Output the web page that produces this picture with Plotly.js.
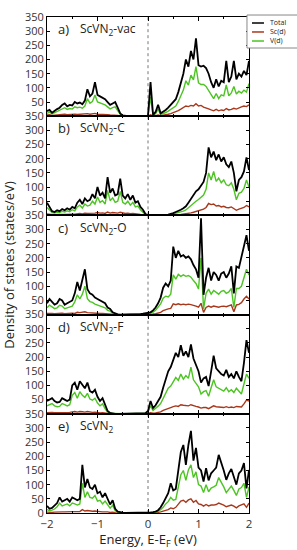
<!DOCTYPE html>
<html>
<head>
<meta charset="utf-8">
<script src="https://cdn.plot.ly/plotly-3.0.1.min.js"></script>
<style>
  html, body { margin: 0; padding: 0; background: #fff; }
  #chart { width: 297px; height: 550px; }
</style>
</head>
<body>
<div id="chart"></div>
<script>
// Energy grid, E - E_F (eV)
const energy = [
  -2,-1.95,-1.9,-1.85,-1.8,-1.75,-1.7,-1.65,-1.6,-1.55,
  -1.5,-1.45,-1.4,-1.35,-1.3,-1.25,-1.2,-1.15,-1.1,-1.05,
  -1,-0.95,-0.9,-0.85,-0.8,-0.75,-0.7,-0.65,-0.6,-0.55,
  -0.5,-0.45,-0.4,-0.35,-0.3,-0.25,-0.2,-0.15,-0.1,-0.05,
  0,0.05,0.1,0.15,0.2,0.25,0.3,0.35,0.4,0.45,
  0.5,0.55,0.6,0.65,0.7,0.75,0.8,0.85,0.9,0.95,
  1,1.05,1.1,1.15,1.2,1.25,1.3,1.35,1.4,1.45,
  1.5,1.55,1.6,1.65,1.7,1.75,1.8,1.85,1.9,1.95,
  2
];

const panelLetters = ['a)', 'b)', 'c)', 'd)', 'e)'];
const panelNames = ['ScVN<sub>2</sub>-vac', 'ScVN<sub>2</sub>-C', 'ScVN<sub>2</sub>-O', 'ScVN<sub>2</sub>-F', 'ScVN<sub>2</sub>'];
const seriesNames = ['Total', 'Sc(d)', 'V(d)'];
const yTicksInner = [50, 100, 150, 200, 250, 300, 350];
const yTicksBottom = [0, 50, 100, 150, 200, 250, 300, 350];
const xTicks = [-2, -1, 0, 1, 2];
const fermiLevel = 0;

// a) ScVN2-vac
const total_a = [
  18,22,12,20,25,30,40,45,35,40,
  38,50,45,48,42,55,95,70,80,120,
  75,70,65,60,50,40,45,50,30,10,
  3,1,0,0,0,0,0,0,0,0,
  2,120,5,15,40,10,15,22,30,40,
  50,60,85,115,150,200,175,230,200,275,
  180,175,178,170,150,120,100,130,105,125,
  120,195,120,140,195,130,150,140,160,145,
  195];
const vd_a = [
  10,14,8,12,16,20,26,30,24,27,
  25,33,30,32,28,36,62,46,52,75,
  50,46,43,40,33,26,30,33,20,7,
  2,1,0,0,0,0,0,0,0,0,
  1,68,3,9,25,6,9,13,18,24,
  30,36,52,70,92,125,110,145,128,175,
  118,112,112,105,92,75,62,80,62,75,
  72,110,72,82,105,78,88,82,92,85,
  115];
const scd_a = [
  4,5,3,4,5,5,6,7,5,6,
  6,7,6,7,6,7,9,7,8,10,
  7,7,6,6,5,4,4,4,3,1,
  0,0,0,0,0,0,0,0,0,0,
  0,5,1,2,4,2,3,5,7,9,
  12,15,20,25,30,36,34,38,36,44,
  36,38,32,30,26,22,19,24,19,22,
  20,27,22,24,28,25,30,33,36,34,
  40];

// b) ScVN2-C
const total_b = [
  45,30,15,12,18,15,22,18,25,20,
  30,25,45,55,40,60,50,55,75,60,
  100,70,80,60,135,80,95,70,75,130,
  70,60,75,55,70,45,50,30,20,5,
  0,0,0,0,0,0,1,2,3,5,
  8,12,15,20,25,32,45,60,70,85,
  92,105,118,150,240,205,225,195,215,190,
  205,180,170,190,150,85,125,135,155,205,
  160];
const vd_b = [
  28,20,10,8,12,10,14,12,16,13,
  20,16,30,36,26,40,33,36,50,40,
  65,46,52,40,88,52,62,46,50,85,
  46,40,50,36,46,30,33,20,13,3,
  0,0,0,0,0,0,1,1,2,3,
  5,7,9,12,15,19,27,36,42,50,
  56,63,72,92,150,125,155,120,132,115,
  125,108,105,115,92,55,78,82,95,125,
  100];
const scd_b = [
  5,4,2,2,3,2,3,3,4,3,
  4,4,6,7,5,8,7,7,9,8,
  10,8,9,7,12,8,10,8,8,11,
  8,7,8,6,7,5,5,3,2,1,
  0,0,0,0,0,0,0,0,0,1,
  1,2,2,3,4,5,7,9,11,14,
  16,19,22,28,42,38,40,33,35,30,
  32,28,27,30,25,18,22,24,28,35,
  30];

// c) ScVN2-O
const total_c = [
  40,55,45,35,40,55,50,35,40,45,
  50,75,115,85,120,160,90,75,70,60,
  55,50,45,40,25,20,8,3,1,0,
  0,0,0,0,0,0,1,2,3,4,
  5,8,15,25,40,60,95,110,100,120,
  240,200,225,205,210,200,205,195,175,160,
  130,340,70,130,165,120,150,140,120,145,
  150,130,145,170,75,170,165,200,245,280,
  225];
const vd_c = [
  24,33,27,21,24,33,30,21,24,27,
  30,45,70,55,72,100,56,46,43,37,
  34,30,27,24,15,12,5,2,1,0,
  0,0,0,0,0,0,0,1,2,2,
  3,5,9,15,25,38,58,65,62,72,
  140,125,142,135,140,135,138,132,120,110,
  90,200,20,75,90,72,85,80,72,82,
  85,75,80,92,25,92,92,100,130,160,
  140];
const scd_c = [
  4,5,4,3,4,5,5,3,4,4,
  5,4,8,7,8,10,7,6,6,5,
  5,4,4,3,2,2,1,0,0,0,
  0,0,0,0,0,0,0,0,0,0,
  0,1,2,3,5,8,14,18,20,22,
  38,35,38,35,37,35,37,35,33,30,
  26,40,8,25,30,26,30,28,26,29,
  30,28,30,34,10,34,36,42,55,65,
  55];

// d) ScVN2-F
const total_d = [
  45,50,55,45,40,42,55,50,45,50,
  100,110,85,115,100,90,110,80,75,85,
  60,45,55,30,10,3,1,0,0,0,
  0,0,0,0,0,0,0,0,0,2,
  10,45,20,30,45,60,92,121,150,165,
  190,215,200,242,205,220,200,245,195,170,
  150,110,125,130,98,150,205,160,150,140,
  135,155,130,140,125,150,130,115,180,260,
  215];
const vd_d = [
  28,32,36,28,25,26,36,32,28,32,
  65,75,55,78,65,58,72,52,48,55,
  38,28,35,18,6,2,1,0,0,0,
  0,0,0,0,0,0,0,0,0,1,
  6,28,12,18,27,36,55,72,90,98,
  112,128,118,140,122,135,125,165,120,105,
  95,70,78,82,62,92,120,95,90,85,
  80,92,78,85,75,90,78,70,105,140,
  125];
const scd_d = [
  4,5,5,4,4,4,5,5,4,5,
  7,8,6,8,7,6,8,6,5,6,
  4,3,4,2,1,0,0,0,0,0,
  0,0,0,0,0,0,0,0,0,0,
  1,4,2,3,5,7,12,16,20,22,
  25,28,26,32,30,30,28,32,28,26,
  24,20,22,22,18,22,28,25,24,22,
  22,25,22,24,22,26,25,24,35,48,
  45];

// e) ScVN2
const total_e = [
  25,15,18,25,35,55,40,45,50,40,
  55,50,45,50,170,90,120,90,85,100,
  70,75,55,70,50,30,45,15,5,2,
  1,0,0,0,0,0,0,1,1,1,
  2,2,3,5,10,20,35,55,70,105,
  80,85,150,215,240,170,240,290,185,230,
  160,150,111,158,115,140,150,160,205,180,
  150,117,140,155,130,100,140,150,176,87,
  152];
const vd_e = [
  12,8,10,14,22,35,25,28,32,25,
  35,32,28,32,105,55,75,55,52,62,
  42,45,32,42,30,17,27,8,3,1,
  0,0,0,0,0,0,0,0,0,0,
  1,1,2,3,6,12,20,32,40,55,
  45,48,95,135,150,115,152,170,125,145,
  100,95,72,100,75,88,92,98,125,110,
  92,72,85,95,80,62,85,90,105,55,
  92];
const scd_e = [
  3,2,2,3,4,5,4,4,5,4,
  5,5,4,5,12,7,9,7,6,7,
  5,5,4,5,4,2,3,1,0,0,
  0,0,0,0,0,0,0,0,0,0,
  0,0,0,1,2,4,7,10,12,18,
  15,20,30,42,45,38,46,50,38,44,
  32,30,24,30,25,28,28,30,35,32,
  28,22,25,28,24,18,25,28,32,20,
  35];

const totals = [total_a, total_b, total_c, total_d, total_e];
const vds = [vd_a, vd_b, vd_c, vd_d, vd_e];
const scds = [scd_a, scd_b, scd_c, scd_d, scd_e];

const COL_TOTAL = '#000000';
const COL_SC = '#a8381c';
const COL_V = '#4cc422';
const FONT = 'Open Sans, Liberation Sans, sans-serif';
const nP = 5;

const traces = [];
const layout = {
  width: 297, height: 550,
  margin: {l: 47, r: 48, t: 17, b: 37, autoexpand: false},
  paper_bgcolor: '#fff', plot_bgcolor: '#fff',
  showlegend: false,
  font: {family: FONT, size: 11, color: '#333'},
  shapes: [], annotations: []
};

for (let k = 0; k < nP; k++) {
  const id = k === 0 ? '' : String(k + 1);
  const xa = 'x' + id, ya = 'y' + id;
  const series = [
    {y: scds[k], name: seriesNames[1], color: COL_SC, w: 1.4},
    {y: vds[k], name: seriesNames[2], color: COL_V, w: 1.4},
    {y: totals[k], name: seriesNames[0], color: COL_TOTAL, w: 1.8}
  ];
  series.forEach(s => traces.push({
    type: 'scatter', mode: 'lines', x: energy, y: s.y, name: s.name,
    xaxis: xa, yaxis: ya, line: {color: s.color, width: s.w},
    legendgroup: s.name, showlegend: false, hoverinfo: 'x+y+name'
  }));
  const top = 1 - k / nP, bot = 1 - (k + 1) / nP;
  layout['xaxis' + id] = {
    domain: [0, 1], range: [-2, 2], anchor: ya,
    showline: true, mirror: 'ticks', linecolor: '#000', linewidth: 1,
    ticks: 'inside', ticklen: 4, tickcolor: '#000',
    tickvals: xTicks, showticklabels: k === nP - 1,
    minor: {ticks: 'inside', dtick: 0.5, tick0: -2, ticklen: 2, tickcolor: '#000'},
    showgrid: false, zeroline: false, fixedrange: true,
    tickfont: {family: FONT, size: 11.5, color: '#333'},
    matches: k === 0 ? undefined : 'x'
  };
  layout['yaxis' + id] = {
    domain: [bot, top], range: [0, 350], anchor: xa,
    showline: true, mirror: 'ticks', linecolor: '#000', linewidth: 1,
    ticks: 'inside', ticklen: 3, tickcolor: '#000',
    tickvals: k === nP - 1 ? yTicksBottom : yTicksInner,
    showgrid: false, zeroline: false, fixedrange: true,
    tickfont: {family: FONT, size: 11, color: '#333'}
  };
  layout.shapes.push({
    type: 'line', xref: xa, yref: ya + ' domain',
    x0: fermiLevel, x1: fermiLevel, y0: 0, y1: 1,
    line: {color: '#777', width: 1, dash: 'dot'}, layer: 'below'
  });
  layout.annotations.push({
    xref: xa + ' domain', yref: ya + ' domain', x: 0.044, y: 0.878,
    xanchor: 'left', yanchor: 'middle', showarrow: false,
    text: panelLetters[k], font: {family: FONT, size: 13, color: '#222'}
  });
  layout.annotations.push({
    xref: xa + ' domain', yref: ya + ' domain', x: 0.151, y: 0.878,
    xanchor: 'left', yanchor: 'middle', showarrow: false,
    text: panelNames[k], font: {family: FONT, size: 12, color: '#222'}
  });
}

layout.yaxis3.title = {text: 'Density of states (states/eV)', font: {family: FONT, size: 13, color: '#222'}, standoff: 10};
layout.xaxis5.title = {text: 'Energy, E-E<sub>F</sub> (eV)', font: {family: FONT, size: 13, color: '#222'}, standoff: 6};

// Legend box (top right)
layout.shapes.push({
  type: 'rect', xref: 'paper', yref: 'paper',
  x0: 0.990, x1: 1.26, y0: 0.9375, y1: 1.004,
  line: {color: '#888', width: 1}, fillcolor: '#fff', layer: 'above'
});
const legendColors = [COL_TOTAL, COL_SC, COL_V];
const legendY = [0.9879, 0.9698, 0.9516];
for (let i = 0; i < 3; i++) {
  layout.shapes.push({
    type: 'line', xref: 'paper', yref: 'paper',
    x0: 1.0148, x1: 1.0741, y0: legendY[i], y1: legendY[i],
    line: {color: legendColors[i], width: 1.5}, layer: 'above'
  });
}
layout.annotations.push({
  xref: 'paper', yref: 'paper', x: 1.100, y: legendY[1],
  xanchor: 'left', yanchor: 'middle', align: 'left', showarrow: false,
  borderpad: 0,
  text: seriesNames.join('<br>'), font: {family: FONT, size: 7, color: '#222'}
});

Plotly.newPlot('chart', traces, layout, {displayModeBar: false, staticPlot: true});
</script>
</body>
</html>
